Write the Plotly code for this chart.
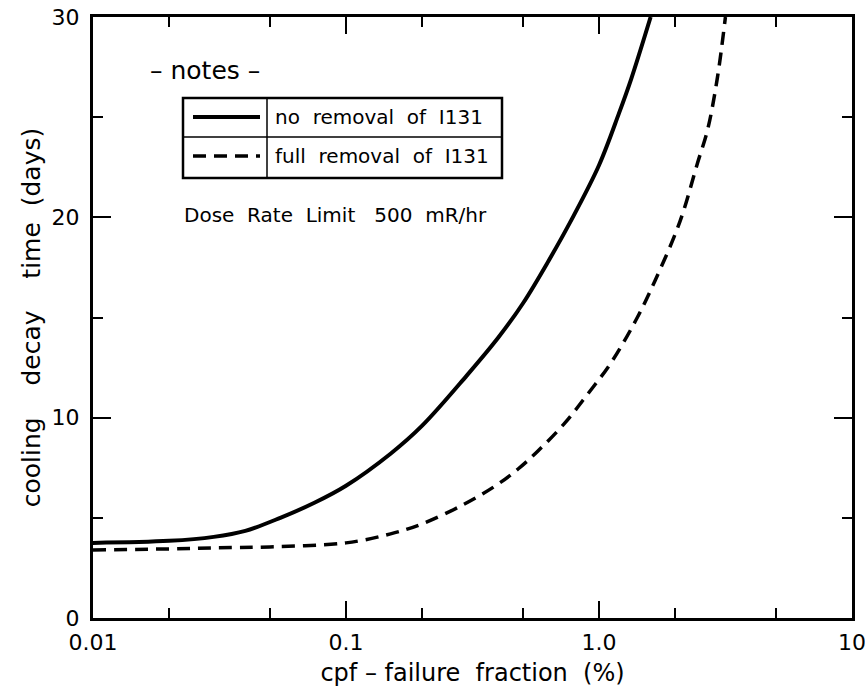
import plotly.graph_objects as go

# ---- data ----
x_no_removal = [0.01, 0.02, 0.03, 0.04, 0.055, 0.075, 0.1, 0.15, 0.2, 0.3, 0.4, 0.5,
                0.63, 0.78, 1.0, 1.2, 1.34, 1.6]
y_no_removal = [3.75, 3.85, 4.05, 4.35, 5.0, 5.75, 6.6, 8.2, 9.6, 12.1, 14.0, 15.7,
                17.8, 19.9, 22.6, 25.2, 26.9, 30.0]

x_full_removal = [0.01, 0.02, 0.03, 0.05, 0.1, 0.15, 0.2, 0.29, 0.39, 0.48, 0.575,
                  0.735, 0.905, 1.11, 1.39, 1.66, 2.09, 2.45, 2.69, 2.94, 3.16]
y_full_removal = [3.4, 3.45, 3.5, 3.55, 3.75, 4.2, 4.7, 5.65, 6.6, 7.45, 8.35,
                  9.75, 11.2, 12.7, 14.8, 16.8, 19.8, 22.7, 24.4, 27.0, 30.0]

x_tick_vals = [0.01, 0.1, 1, 10]
x_tick_text = ["0.01", "0.1", "1.0", "10"]
x_minor_vals = [0.02, 0.05, 0.2, 0.5, 2, 5]
y_tick_vals = [0, 10, 20, 30]
y_minor_vals = [5, 15, 25]

NB = "\u00a0"
series_labels = [f"no{NB}{NB}removal{NB}{NB}of{NB}{NB}I131",
                 f"full{NB}{NB}removal{NB}{NB}of{NB}{NB}I131"]
notes_title = f"–{NB}notes{NB}–"
dose_text = f"Dose{NB}{NB}Rate{NB}{NB}Limit{NB}{NB}{NB}500{NB}{NB}mR/hr"
x_title = f"cpf{NB}–{NB}failure{NB}{NB}fraction{NB}{NB}(%)"
y_title = f"cooling{NB}{NB}{NB}{NB}decay{NB}{NB}{NB}{NB}time{NB}{NB}(days)"

FONT = "DejaVu Sans"
W, H = 865, 698
L, R, T, B = 93, 13, 17, 80
PW, PH = W - L - R, H - T - B

def px(x):
    return (x - L) / PW

def py(y):
    return (H - B - y) / PH

fig = go.Figure()
fig.add_trace(go.Scatter(x=x_no_removal, y=y_no_removal, mode="lines",
                         line=dict(color="black", width=4, shape="spline", smoothing=1.0),
                         showlegend=False))
fig.add_trace(go.Scatter(x=x_full_removal, y=y_full_removal, mode="lines",
                         line=dict(color="black", width=3.5, dash="13px,8px",
                                   shape="spline", smoothing=1.0),
                         showlegend=False))

shapes = []
# legend box
shapes.append(dict(type="rect", xref="paper", yref="paper",
                   x0=px(183), x1=px(502), y0=py(178), y1=py(98),
                   line=dict(color="black", width=2.5)))
shapes.append(dict(type="line", xref="paper", yref="paper",
                   x0=px(267), x1=px(267), y0=py(178), y1=py(98),
                   line=dict(color="black", width=1.5)))
shapes.append(dict(type="line", xref="paper", yref="paper",
                   x0=px(183), x1=px(502), y0=py(137), y1=py(137),
                   line=dict(color="black", width=1.5)))
shapes.append(dict(type="line", xref="paper", yref="paper",
                   x0=px(193), x1=px(260), y0=py(117), y1=py(117),
                   line=dict(color="black", width=4)))
shapes.append(dict(type="line", xref="paper", yref="paper",
                   x0=px(193), x1=px(260), y0=py(156), y1=py(156),
                   line=dict(color="black", width=3.5, dash="13px,8px")))

annotations = [
    dict(text=notes_title, xref="paper", yref="paper", x=px(148), y=py(70),
         xanchor="left", yanchor="middle", showarrow=False,
         font=dict(family=FONT, size=25, color="black")),
    dict(text=series_labels[0], xref="paper", yref="paper", x=px(273), y=py(117),
         xanchor="left", yanchor="middle", showarrow=False,
         font=dict(family=FONT, size=20, color="black")),
    dict(text=series_labels[1], xref="paper", yref="paper", x=px(273), y=py(156),
         xanchor="left", yanchor="middle", showarrow=False,
         font=dict(family=FONT, size=20, color="black")),
    dict(text=dose_text, xref="paper", yref="paper", x=px(182), y=py(215),
         xanchor="left", yanchor="middle", showarrow=False,
         font=dict(family=FONT, size=20, color="black")),
]

fig.update_layout(
    width=W, height=H,
    margin=dict(l=L, r=R, t=T, b=B),
    paper_bgcolor="white", plot_bgcolor="white",
    font=dict(family=FONT, color="black"),
    shapes=shapes, annotations=annotations,
    showlegend=False,
)
fig.update_xaxes(
    type="log", range=[-2, 1], tickmode="array", tickvals=x_tick_vals, ticktext=x_tick_text,
    ticks="inside", ticklen=17, tickwidth=2, tickcolor="black",
    minor=dict(tickmode="array", tickvals=x_minor_vals, ticks="inside", ticklen=10,
               tickwidth=2, tickcolor="black", showgrid=False),
    showline=True, linecolor="black", linewidth=3, mirror="ticks",
    showgrid=False, zeroline=False, automargin=False, ticklabeloverflow="allow",
    tickfont=dict(family=FONT, size=22), ticklabelstandoff=3,
    title=dict(text=x_title, font=dict(family=FONT, size=24), standoff=10),
)
fig.update_yaxes(
    range=[0, 30], tickmode="array", tickvals=y_tick_vals,
    ticks="inside", ticklen=18, tickwidth=2, tickcolor="black",
    minor=dict(tickmode="array", tickvals=y_minor_vals, ticks="inside", ticklen=10,
               tickwidth=2, tickcolor="black", showgrid=False),
    showline=True, linecolor="black", linewidth=3, mirror="ticks",
    showgrid=False, zeroline=False, automargin=False, ticklabeloverflow="allow",
    tickfont=dict(family=FONT, size=22), ticklabelstandoff=6,
    title=dict(text=y_title, font=dict(family=FONT, size=25), standoff=4),
)

fig.write_html("out.html")
